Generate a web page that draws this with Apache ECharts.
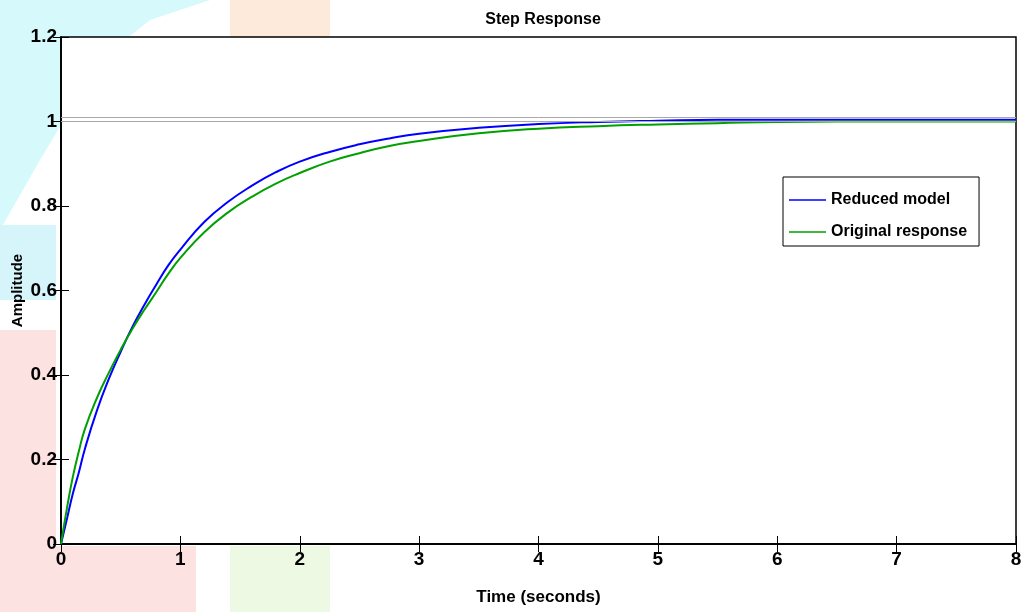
<!DOCTYPE html>
<html>
<head>
<meta charset="utf-8">
<script src="https://cdn.jsdelivr.net/npm/echarts@6/dist/echarts.min.js"></script>
<style>
  html, body { margin: 0; padding: 0; background: #fff; }
  #chart { width: 1024px; height: 612px; }
</style>
</head>
<body>
<div id="chart"></div>
<script>
// values
const times = [0, 0.05, 0.1, 0.15, 0.2, 0.3, 0.4, 0.5, 0.6, 0.7, 0.8, 0.9, 1.0, 1.2, 1.4, 1.6, 1.8, 2.0,
  2.25, 2.5, 2.75, 3.0, 3.5, 4.0, 4.5, 5.0, 5.5, 6.0, 7.0, 8.0]
const reducedModel = [0, 0.06, 0.12, 0.17, 0.225, 0.315, 0.39, 0.455, 0.515, 0.567, 0.615, 0.66, 0.697,
  0.762, 0.81, 0.848, 0.88, 0.905, 0.928, 0.946, 0.96, 0.971, 0.985, 0.994, 0.999, 1.002, 1.004, 1.004, 1.004, 1.004]
const originalResponse = [0, 0.085, 0.16, 0.22, 0.272, 0.345, 0.405, 0.46, 0.51, 0.555, 0.597, 0.64, 0.677,
  0.738, 0.785, 0.822, 0.853, 0.878, 0.905, 0.925, 0.942, 0.954, 0.972, 0.983, 0.989, 0.993, 0.996, 0.999, 1.0, 1.0]
const steadyLevels = [1.006, 1.0]
const xTicks = [0, 8, 1]
const yTicks = [0, 1.2, 0.2]

const font = '"Liberation Sans", Arial, Helvetica, sans-serif'

let myChart = echarts.init(document.getElementById('chart'))

const pairs = (ys) => times.map((t, i) => [t, ys[i]])

const tickLabel = {
  color: '#000',
  fontFamily: font,
  fontWeight: 'bold',
  fontSize: 19
}

myChart.setOption({
  backgroundColor: '#fff',
  animation: false,
  // faint watermark behind the figure
  graphic: [
    { type: 'polygon', z: -10, shape: { points: [[0, 230], [40, 160], [100, 60], [150, 20], [210, 0], [100, 0], [0, 0]] }, style: { fill: '#d6fafc' } },
    { type: 'rect', z: -10, shape: { x: 0, y: 225, width: 56, height: 75 }, style: { fill: '#d6f5fb' } },
    { type: 'rect', z: -10, shape: { x: 230, y: 0, width: 100, height: 37 }, style: { fill: '#feeadb' } },
    { type: 'rect', z: -10, shape: { x: 0, y: 330, width: 56, height: 282 }, style: { fill: '#fde2e2' } },
    { type: 'rect', z: -10, shape: { x: 56, y: 546, width: 140, height: 66 }, style: { fill: '#fde2e2' } },
    { type: 'rect', z: -10, shape: { x: 230, y: 546, width: 100, height: 66 }, style: { fill: '#eef9e4' } }
  ],
  title: {
    text: 'Step Response',
    left: 538,
    top: 7,
    textAlign: 'center',
    textStyle: { fontFamily: font, fontWeight: 'bold', fontSize: 16, color: '#000' }
  },
  legend: {
    orient: 'vertical',
    left: 783,
    top: 177,
    padding: [15, 12, 6, 6],
    icon: 'rect',
    itemWidth: 37,
    itemHeight: 1.5,
    itemGap: 16,
    borderColor: '#000',
    borderWidth: 1,
    backgroundColor: '#fff',
    textStyle: { fontFamily: font, fontWeight: 'bold', fontSize: 16, color: '#000', padding: [0, 0, 0, 0] },
    data: ['Reduced model', 'Original response']
  },
  grid: {
    left: 61,
    right: 8,
    top: 37,
    bottom: 68,
    outerBoundsMode: 'none',
    containLabel: false,
    show: true,
    backgroundColor: '#fff',
    borderColor: '#000',
    borderWidth: 1.5
  },
  xAxis: [{
    type: 'value',
    min: xTicks[0],
    max: xTicks[1],
    interval: xTicks[2],
    name: 'Time (seconds)',
    nameLocation: 'middle',
    nameGap: 45,
    nameTextStyle: { fontFamily: font, fontWeight: 'bold', fontSize: 17, color: '#000' },
    axisLine: { lineStyle: { color: '#000', width: 1.5 } },
    axisTick: { inside: true, length: 8, lineStyle: { color: '#000' } },
    axisLabel: Object.assign({ margin: 6 }, tickLabel),
    splitLine: { show: false }
  }, {
    type: 'value',
    position: 'top',
    min: xTicks[0],
    max: xTicks[1],
    interval: xTicks[2],
    axisLine: { lineStyle: { color: '#000', width: 1.5 } },
    axisTick: { inside: true, length: 8, lineStyle: { color: '#000' } },
    axisLabel: { show: false },
    splitLine: { show: false }
  }],
  yAxis: [{
    type: 'value',
    min: yTicks[0],
    max: yTicks[1],
    interval: yTicks[2],
    name: 'Amplitude',
    nameLocation: 'middle',
    nameGap: 36,
    nameMoveOverlap: false,
    nameTextStyle: { fontFamily: font, fontWeight: 'bold', fontSize: 15, color: '#000' },
    axisLine: { lineStyle: { color: '#000', width: 1.5 } },
    axisTick: { inside: true, length: 8, lineStyle: { color: '#000' } },
    axisLabel: Object.assign({ margin: 4, formatter: v => +v.toFixed(1) + '' }, tickLabel),
    splitLine: { show: false }
  }, {
    type: 'value',
    position: 'right',
    min: yTicks[0],
    max: yTicks[1],
    interval: yTicks[2],
    axisLine: { lineStyle: { color: '#000', width: 1.5 } },
    axisTick: { inside: true, length: 8, lineStyle: { color: '#000' } },
    axisLabel: { show: false },
    splitLine: { show: false }
  }],
  series: [{
    name: 'Reduced model',
    type: 'line',
    data: pairs(reducedModel),
    smooth: true,
    symbol: 'none',
    color: '#0000ff',
    lineStyle: { width: 2, color: '#0000ff' },
    z: 3,
    markLine: {
      silent: true,
      symbol: 'none',
      label: { show: false },
      lineStyle: { color: '#a8a8a8', width: 1, type: 'solid' },
      data: steadyLevels.map(v => ({ yAxis: v }))
    }
  }, {
    name: 'Original response',
    type: 'line',
    data: pairs(originalResponse),
    smooth: true,
    symbol: 'none',
    color: '#00a000',
    lineStyle: { width: 2, color: '#00a000' },
    z: 4
  }]
})
</script>
</body>
</html>
